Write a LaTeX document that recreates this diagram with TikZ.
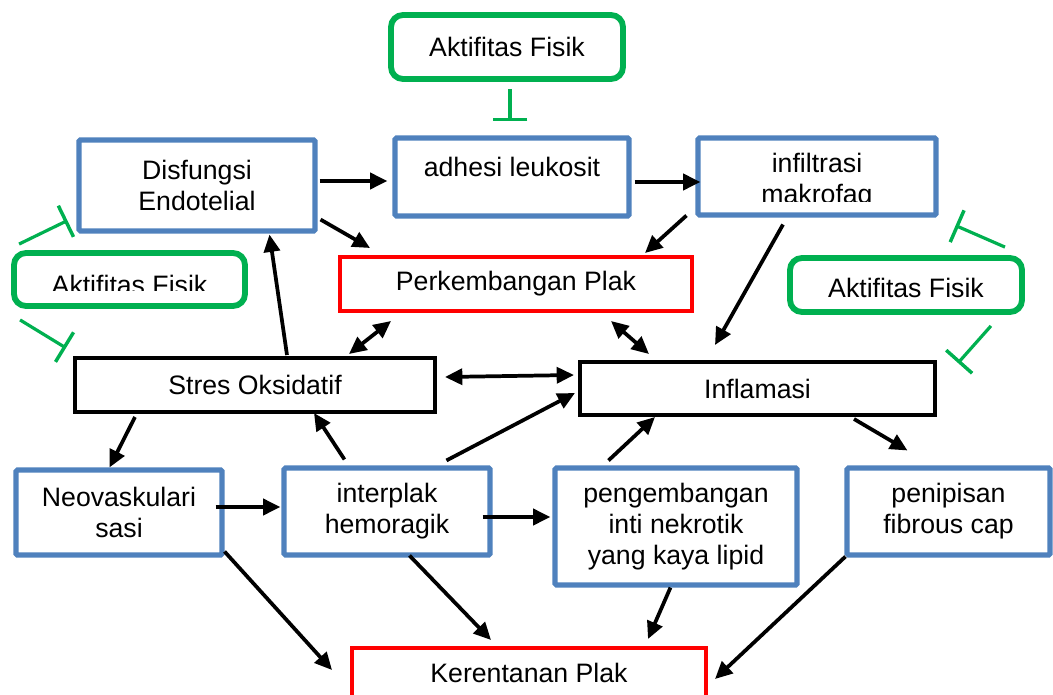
\documentclass[tikz,border=0pt]{standalone}
\usepackage{fontspec}
\setmainfont{Liberation Sans}
\usetikzlibrary{arrows.meta,calc}
\definecolor{bblue}{HTML}{4F81BD}
\definecolor{ggreen}{HTML}{00B050}
\definecolor{rred}{HTML}{FF0000}
\begin{document}
\begin{tikzpicture}[x=0.75pt,y={(0pt,-0.75pt)},
  every node/.style={font=\fontsize{20}{23.3}\selectfont, align=center, inner sep=0pt},
  bluebox/.style={draw=bblue, line width=3.8pt, rounded corners=1pt},
  blackbox/.style={draw=black, line width=3pt},
  redbox/.style={draw=rred, line width=3pt},
  greenbox/.style={draw=ggreen, line width=4.4pt, rounded corners=9pt},
  arr/.style={line width=2.8pt, -{Triangle[length=13pt,width=12pt]}},
  darr/.style={line width=2.8pt, {Triangle[length=13pt,width=12pt]}-{Triangle[length=13pt,width=12pt]}},
  inh/.style={draw=ggreen, line width=2.4pt, -{Bar[width=26pt,line width=2.6pt]}}]
\useasboundingbox (0,0) rectangle (1053,695);
\clip (0,0) rectangle (1053,695);

% boxes
\node[greenbox, minimum width=174pt, minimum height=48pt] (fisTop) at (507,47) {Aktifitas Fisik};
\node[bluebox, minimum width=177pt, minimum height=68.25pt] (dis) at (197,185.5) {Disfungsi\\Endotelial};
\node[bluebox, minimum width=175.5pt, minimum height=58.5pt] (adh) at (512,177) {};
\node (adhT) at (512,167) {adhesi leukosit};
\node[bluebox, minimum width=178.5pt, minimum height=57.75pt] (inf) at (817,176.5) {};
\begin{scope}
  \clip (700,140) rectangle (934,202);
  \node (infT) at (817,181) {infiltrasi\\makrofag};
\end{scope}
\node[redbox, minimum width=264pt, minimum height=40.5pt] (perk) at (516,284) {Perkembangan Plak};
\node[greenbox, minimum width=173.25pt, minimum height=39.75pt] (fisL) at (129.5,279.5) {};
\begin{scope}
  \clip (16,255) rectangle (243,290.5);
  \node (fisLT) at (129.5,285) {Aktifitas Fisik};
\end{scope}
\node[greenbox, minimum width=174pt, minimum height=40.5pt] (fisR) at (906,285) {};
\node (fisRT) at (906,288) {Aktifitas Fisik};
\node[blackbox, minimum width=270pt, minimum height=40.5pt] (stres) at (255,385) {Stres Oksidatif};
\node[blackbox, minimum width=266.25pt, minimum height=39.75pt] (infl) at (757.5,388.5) {Inflamasi};
\node[bluebox, minimum width=154.5pt, minimum height=63.75pt] (neo) at (119,512.5) {Neovaskulari\\sasi};
\node[bluebox, minimum width=154.5pt, minimum height=65.25pt] (hem) at (387,511.5) {interplak\\hemoragik};
\node[bluebox, minimum width=181.5pt, minimum height=87.75pt] (nek) at (676,526.5) {pengembangan\\inti nekrotik\\yang kaya lipid};
\node[bluebox, minimum width=152.25pt, minimum height=65.25pt] (tip) at (948.5,511.5) {penipisan\\fibrous cap};
\node[redbox, minimum width=265.5pt, minimum height=37.5pt] (ker) at (529,673) {Kerentanan Plak};

% arrows
\draw[arr] ($(dis.east)+(2,-4.5)$) -- ($(adh.west)+(-5,4)$);
\draw[arr] ($(adh.east)+(3,5)$) -- ($(inf.west)+(5,5.5)$);
\draw[arr] ($(dis.south east)+(3,-14)$) -- ($(perk.north west)+(32,-7)$);
\draw[arr] ($(inf.south west)+(-9,-2)$) -- ($(perk.north east)+(-49,-2)$);
\draw[arr] ($(inf.south)+(-34,7)$) -- ($(infl.north west)+(137,-15)$);
\draw[darr] ($(perk.south west)+(53,8)$) -- ($(stres.north west)+(276,-2)$);
\draw[darr] ($(perk.south west)+(273,8)$) -- ($(infl.north west)+(71,-6)$);
\draw[darr] ($(stres.east)+(8,-8)$) -- ($(infl.west)+(-4,-13.5)$);
\draw[arr] ($(stres.north west)+(214,-1)$) -- ($(dis.south west)+(193,1)$);
\draw[arr] ($(stres.south west)+(62,3)$) -- ($(neo.north west)+(96,0)$);
\draw[arr] ($(hem.north west)+(63,-6)$) -- ($(stres.south west)+(241,-1)$);
\draw[arr] ($(hem.north west)+(165,-5)$) -- ($(infl.west)+(-3,4.5)$);
\draw[arr] ($(neo.east)+(-9,-5.5)$) -- ($(hem.west)+(-1,-4.5)$);
\draw[arr] ($(hem.east)+(-10,5.5)$) -- ($(nek.west)+(-2,-9.5)$);
\draw[arr] ($(nek.north west)+(56,-5)$) -- ($(infl.south west)+(77,0)$);
\draw[arr] ($(infl.south west)+(276,2)$) -- ($(tip.north west)+(63,-15)$);
\draw[arr] ($(neo.south east)+(0,-6)$) -- ($(ker.west)+(-18,-3)$);
\draw[arr] ($(hem.south west)+(128,-2)$) -- ($(ker.north west)+(141,-6)$);
\draw[arr] ($(nek.south west)+(118,0)$) -- ($(ker.north west)+(298,-7)$);
\draw[arr] ($(tip.south west)+(1,-1)$) -- ($(ker.east)+(7,6)$);

% inhibitors
\draw[inh] ($(fisTop.south)+(3,7)$) -- ($(adh.north)+(-2,-14)$);
\draw[inh] ($(fisL.north west)+(8,-6)$) -- ($(dis.south west)+(-9,-13)$);
\draw[inh] ($(fisL.south west)+(9,11)$) -- ($(stres.north west)+(-7,-8)$);
\draw[inh] ($(fisR.north east)+(-20,-8)$) -- ($(inf.south east)+(17,8)$);
\draw[inh] ($(fisR.south east)+(-34,11)$) -- ($(infl.north east)+(21,3)$);
\end{tikzpicture}
\end{document}
